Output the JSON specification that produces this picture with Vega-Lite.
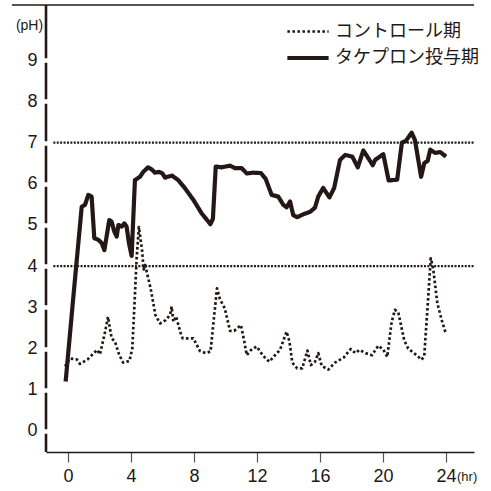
{
  "$schema": "https://vega.github.io/schema/vega-lite/v6.json",
  "width": 428,
  "height": 447,
  "autosize": "none",
  "padding": {"left": 46, "top": 5, "right": 17, "bottom": 39},
  "background": "white",
  "config": {"view": {"stroke": null}, "font": "Liberation Sans"},
  "datasets": {
    "ph": [
      {"series": "タケプロン投与期", "hr": -0.15, "pH": 1.2},
      {"series": "タケプロン投与期", "hr": 0.35, "pH": 3.3},
      {"series": "タケプロン投与期", "hr": 0.87, "pH": 5.44},
      {"series": "タケプロン投与期", "hr": 1.08, "pH": 5.49},
      {"series": "タケプロン投与期", "hr": 1.29, "pH": 5.73},
      {"series": "タケプロン投与期", "hr": 1.5, "pH": 5.69},
      {"series": "タケプロン投与期", "hr": 1.67, "pH": 4.68},
      {"series": "タケプロン投与期", "hr": 1.93, "pH": 4.64},
      {"series": "タケプロン投与期", "hr": 2.14, "pH": 4.56},
      {"series": "タケプロン投与期", "hr": 2.31, "pH": 4.39},
      {"series": "タケプロン投与期", "hr": 2.62, "pH": 5.12},
      {"series": "タケプロン投与期", "hr": 2.77, "pH": 5.08},
      {"series": "タケプロン投与期", "hr": 2.94, "pH": 4.84},
      {"series": "タケプロン投与期", "hr": 3.09, "pH": 4.72},
      {"series": "タケプロン投与期", "hr": 3.2, "pH": 5.0},
      {"series": "タケプロン投与期", "hr": 3.41, "pH": 4.96},
      {"series": "タケプロン投与期", "hr": 3.58, "pH": 5.04},
      {"series": "タケプロン投与期", "hr": 3.72, "pH": 4.96},
      {"series": "タケプロン投与期", "hr": 3.87, "pH": 4.56},
      {"series": "タケプロン投与期", "hr": 4.04, "pH": 4.25},
      {"series": "タケプロン投与期", "hr": 4.25, "pH": 6.09},
      {"series": "タケプロン投与期", "hr": 4.57, "pH": 6.17},
      {"series": "タケプロン投与期", "hr": 4.78, "pH": 6.29},
      {"series": "タケプロン投与期", "hr": 5.08, "pH": 6.4},
      {"series": "タケプロン投与期", "hr": 5.31, "pH": 6.35},
      {"series": "タケプロン投与期", "hr": 5.52, "pH": 6.27},
      {"series": "タケプロン投与期", "hr": 5.78, "pH": 6.29},
      {"series": "タケプロン投与期", "hr": 6.0, "pH": 6.25},
      {"series": "タケプロン投与期", "hr": 6.16, "pH": 6.15},
      {"series": "タケプロン投与期", "hr": 6.6, "pH": 6.2},
      {"series": "タケプロン投与期", "hr": 7.0, "pH": 6.09},
      {"series": "タケプロン投与期", "hr": 7.43, "pH": 5.89},
      {"series": "タケプロン投与期", "hr": 7.96, "pH": 5.61},
      {"series": "タケプロン投与期", "hr": 8.49, "pH": 5.28},
      {"series": "タケプロン投与期", "hr": 9.04, "pH": 5.02},
      {"series": "タケプロン投与期", "hr": 9.2, "pH": 5.15},
      {"series": "タケプロン投与期", "hr": 9.38, "pH": 6.42},
      {"series": "タケプロン投与期", "hr": 9.75, "pH": 6.4},
      {"series": "タケプロン投与期", "hr": 10.29, "pH": 6.44},
      {"series": "タケプロン投与期", "hr": 10.6, "pH": 6.38},
      {"series": "タケプロン投与期", "hr": 11.03, "pH": 6.38},
      {"series": "タケプロン投与期", "hr": 11.35, "pH": 6.25},
      {"series": "タケプロン投与期", "hr": 11.77, "pH": 6.27},
      {"series": "タケプロン投与期", "hr": 12.25, "pH": 6.26},
      {"series": "タケプロン投与期", "hr": 12.55, "pH": 6.12},
      {"series": "タケプロン投与期", "hr": 12.93, "pH": 5.73},
      {"series": "タケプロン投与期", "hr": 13.35, "pH": 5.69},
      {"series": "タケプロン投与期", "hr": 13.67, "pH": 5.49},
      {"series": "タケプロン投与期", "hr": 13.88, "pH": 5.43},
      {"series": "タケプロン投与期", "hr": 14.1, "pH": 5.57},
      {"series": "タケプロン投与期", "hr": 14.3, "pH": 5.24},
      {"series": "タケプロン投与期", "hr": 14.55, "pH": 5.19},
      {"series": "タケプロン投与期", "hr": 14.94, "pH": 5.26},
      {"series": "タケプロン投与期", "hr": 15.37, "pH": 5.32},
      {"series": "タケプロン投与期", "hr": 15.68, "pH": 5.42},
      {"series": "タケプロン投与期", "hr": 15.89, "pH": 5.69},
      {"series": "タケプロン投与期", "hr": 16.2, "pH": 5.9},
      {"series": "タケプロン投与期", "hr": 16.6, "pH": 5.67},
      {"series": "タケプロン投与期", "hr": 16.9, "pH": 5.9},
      {"series": "タケプロン投与期", "hr": 17.27, "pH": 6.58},
      {"series": "タケプロン投与期", "hr": 17.6, "pH": 6.7},
      {"series": "タケプロン投与期", "hr": 18.05, "pH": 6.66},
      {"series": "タケプロン投与期", "hr": 18.4, "pH": 6.4},
      {"series": "タケプロン投与期", "hr": 18.75, "pH": 6.81},
      {"series": "タケプロン投与期", "hr": 19.07, "pH": 6.62},
      {"series": "タケプロン投与期", "hr": 19.35, "pH": 6.45},
      {"series": "タケプロン投与期", "hr": 19.5, "pH": 6.58},
      {"series": "タケプロン投与期", "hr": 20.02, "pH": 6.72},
      {"series": "タケプロン投与期", "hr": 20.36, "pH": 6.08},
      {"series": "タケプロン投与期", "hr": 20.9, "pH": 6.1},
      {"series": "タケプロン投与期", "hr": 21.2, "pH": 7.0},
      {"series": "タケプロン投与期", "hr": 21.45, "pH": 7.04},
      {"series": "タケプロン投与期", "hr": 21.82, "pH": 7.24},
      {"series": "タケプロン投与期", "hr": 22.03, "pH": 7.06},
      {"series": "タケプロン投与期", "hr": 22.42, "pH": 6.17},
      {"series": "タケプロン投与期", "hr": 22.62, "pH": 6.5},
      {"series": "タケプロン投与期", "hr": 22.84, "pH": 6.56},
      {"series": "タケプロン投与期", "hr": 23.0, "pH": 6.83},
      {"series": "タケプロン投与期", "hr": 23.3, "pH": 6.75},
      {"series": "タケプロン投与期", "hr": 23.64, "pH": 6.77},
      {"series": "タケプロン投与期", "hr": 24.0, "pH": 6.66},
      {"series": "コントロール期", "hr": -0.19, "pH": 1.57},
      {"series": "コントロール期", "hr": 0.13, "pH": 1.76},
      {"series": "コントロール期", "hr": 0.55, "pH": 1.74},
      {"series": "コントロール期", "hr": 0.76, "pH": 1.63},
      {"series": "コントロール期", "hr": 1.25, "pH": 1.74},
      {"series": "コントロール期", "hr": 1.85, "pH": 1.97},
      {"series": "コントロール期", "hr": 2.03, "pH": 1.86},
      {"series": "コントロール期", "hr": 2.35, "pH": 2.4},
      {"series": "コントロール期", "hr": 2.54, "pH": 2.77},
      {"series": "コントロール期", "hr": 2.77, "pH": 2.25},
      {"series": "コントロール期", "hr": 2.98, "pH": 2.17},
      {"series": "コントロール期", "hr": 3.25, "pH": 1.85},
      {"series": "コントロール期", "hr": 3.5, "pH": 1.66},
      {"series": "コントロール期", "hr": 3.9, "pH": 1.7},
      {"series": "コントロール期", "hr": 4.08, "pH": 2.0},
      {"series": "コントロール期", "hr": 4.25, "pH": 3.3},
      {"series": "コントロール期", "hr": 4.36, "pH": 4.2},
      {"series": "コントロール期", "hr": 4.5, "pH": 4.95},
      {"series": "コントロール期", "hr": 4.7, "pH": 4.4},
      {"series": "コントロール期", "hr": 4.8, "pH": 3.92},
      {"series": "コントロール期", "hr": 4.9, "pH": 4.03},
      {"series": "コントロール期", "hr": 5.25, "pH": 3.45},
      {"series": "コントロール期", "hr": 5.55, "pH": 2.82},
      {"series": "コントロール期", "hr": 5.84, "pH": 2.61},
      {"series": "コントロール期", "hr": 6.2, "pH": 2.69},
      {"series": "コントロール期", "hr": 6.48, "pH": 2.82},
      {"series": "コントロール期", "hr": 6.58, "pH": 3.02},
      {"series": "コントロール期", "hr": 6.69, "pH": 2.65},
      {"series": "コントロール期", "hr": 6.86, "pH": 2.78},
      {"series": "コントロール期", "hr": 7.15, "pH": 2.38},
      {"series": "コントロール期", "hr": 7.28, "pH": 2.25},
      {"series": "コントロール期", "hr": 7.96, "pH": 2.25},
      {"series": "コントロール期", "hr": 8.38, "pH": 1.94},
      {"series": "コントロール期", "hr": 8.75, "pH": 1.89},
      {"series": "コントロール期", "hr": 9.05, "pH": 1.93},
      {"series": "コントロール期", "hr": 9.23, "pH": 2.61},
      {"series": "コントロール期", "hr": 9.46, "pH": 3.46},
      {"series": "コントロール期", "hr": 9.65, "pH": 3.2},
      {"series": "コントロール期", "hr": 9.95, "pH": 2.98},
      {"series": "コントロール期", "hr": 10.29, "pH": 2.43},
      {"series": "コントロール期", "hr": 10.55, "pH": 2.43},
      {"series": "コントロール期", "hr": 10.98, "pH": 2.57},
      {"series": "コントロール期", "hr": 11.18, "pH": 2.2},
      {"series": "コントロール期", "hr": 11.35, "pH": 1.84},
      {"series": "コントロール期", "hr": 11.6, "pH": 1.96},
      {"series": "コントロール期", "hr": 11.98, "pH": 2.05},
      {"series": "コントロール期", "hr": 12.4, "pH": 1.82},
      {"series": "コントロール期", "hr": 12.78, "pH": 1.68},
      {"series": "コントロール期", "hr": 13.1, "pH": 1.82},
      {"series": "コントロール期", "hr": 13.46, "pH": 1.97},
      {"series": "コントロール期", "hr": 13.88, "pH": 2.41},
      {"series": "コントロール期", "hr": 14.06, "pH": 2.17},
      {"series": "コントロール期", "hr": 14.24, "pH": 1.66},
      {"series": "コントロール期", "hr": 14.55, "pH": 1.52},
      {"series": "コントロール期", "hr": 14.87, "pH": 1.52},
      {"series": "コントロール期", "hr": 15.2, "pH": 1.95},
      {"series": "コントロール期", "hr": 15.42, "pH": 1.6},
      {"series": "コントロール期", "hr": 15.68, "pH": 1.68},
      {"series": "コントロール期", "hr": 15.89, "pH": 1.89},
      {"series": "コントロール期", "hr": 16.11, "pH": 1.58},
      {"series": "コントロール期", "hr": 16.53, "pH": 1.49},
      {"series": "コントロール期", "hr": 16.95, "pH": 1.66},
      {"series": "コントロール期", "hr": 17.5, "pH": 1.78},
      {"series": "コントロール期", "hr": 17.95, "pH": 1.99},
      {"series": "コントロール期", "hr": 18.25, "pH": 1.89},
      {"series": "コントロール期", "hr": 18.5, "pH": 1.97},
      {"series": "コントロール期", "hr": 18.9, "pH": 1.89},
      {"series": "コントロール期", "hr": 19.3, "pH": 1.84},
      {"series": "コントロール期", "hr": 19.7, "pH": 2.07},
      {"series": "コントロール期", "hr": 20.01, "pH": 1.98},
      {"series": "コントロール期", "hr": 20.27, "pH": 1.8},
      {"series": "コントロール期", "hr": 20.55, "pH": 2.65},
      {"series": "コントロール期", "hr": 20.76, "pH": 2.94},
      {"series": "コントロール期", "hr": 20.97, "pH": 2.88},
      {"series": "コントロール期", "hr": 21.35, "pH": 2.2},
      {"series": "コントロール期", "hr": 21.6, "pH": 2.0},
      {"series": "コントロール期", "hr": 22.2, "pH": 1.82},
      {"series": "コントロール期", "hr": 22.45, "pH": 1.73},
      {"series": "コントロール期", "hr": 22.62, "pH": 1.82},
      {"series": "コントロール期", "hr": 22.88, "pH": 3.3},
      {"series": "コントロール期", "hr": 23.03, "pH": 4.19},
      {"series": "コントロール期", "hr": 23.17, "pH": 3.99},
      {"series": "コントロール期", "hr": 23.45, "pH": 3.1},
      {"series": "コントロール期", "hr": 23.73, "pH": 2.69},
      {"series": "コントロール期", "hr": 24.0, "pH": 2.35}
    ]
  },
  "layer": [
    {
      "data": {"values": [{"ref": 7}, {"ref": 4}]},
      "mark": {"type": "rule", "stroke": "#231815", "strokeWidth": 2.2, "strokeDash": [2, 1.4]},
      "encoding": {
        "x": {"datum": -0.93, "type": "quantitative", "scale": {"domain": [-1.397, 25.778], "nice": false, "zero": false}},
        "x2": {"datum": 25.778},
        "y": {"field": "ref", "type": "quantitative", "scale": {"domain": [-0.51, 10.34], "nice": false, "zero": false}}
      }
    },
    {
      "data": {"values": [{}]},
      "mark": {"type": "rule", "stroke": "#231815", "strokeWidth": 1.4, "clip": false},
      "encoding": {
        "x": {"datum": -3.56, "type": "quantitative"},
        "x2": {"datum": 25.778},
        "y": {"datum": 10.34, "type": "quantitative"}
      }
    },
    {
      "data": {"values": [{}]},
      "mark": {"type": "rule", "stroke": "#231815", "strokeWidth": 2.6},
      "encoding": {
        "x": {"datum": -1.397, "type": "quantitative"},
        "y": {"datum": -0.51, "type": "quantitative"},
        "y2": {"datum": 10.34}
      }
    },
    {
      "data": {"name": "ph"},
      "mark": {"type": "line", "stroke": "#231815", "strokeJoin": "round"},
      "encoding": {
        "x": {
          "field": "hr", "type": "quantitative",
          "scale": {"domain": [-1.397, 25.778], "nice": false, "zero": false},
          "axis": {
            "title": null, "values": [0,1,2,3,4,5,6,7,8,9,10,11,12,13,14,15,16,17,18,19,20,21,22,23,24],
            "labelExpr": "datum.value % 4 === 0 ? datum.label : ''",
            "domainColor": "#231815", "domainWidth": 1.5,
            "tickColor": "#555555", "tickWidth": 1.2, "tickSize": 10,
            "labelPadding": 5, "labelFontSize": 18, "labelFont": "Liberation Sans", "labelColor": "#231815",
            "labelFlush": false, "labelOverlap": false, "grid": false, "zindex": 1
          }
        },
        "y": {
          "field": "pH", "type": "quantitative",
          "scale": {"domain": [-0.51, 10.34], "nice": false, "zero": false},
          "axis": {
            "values": [0,1,2,3,4,5,6,7,8,9],
            "domain": false, "ticks": true, "tickColor": "white", "tickWidth": 4.5, "tickSize": 5,
            "offset": -2, "labelPadding": 6, "labelFontSize": 18, "labelFont": "Liberation Sans", "labelColor": "#231815",
            "grid": false, "zindex": 1,
            "title": "(pH)", "titleAngle": 0, "titleX": -19, "titleY": 20, "titleAlign": "center", "titleBaseline": "middle",
            "titleFontSize": 14, "titleFontWeight": "normal", "titleFont": "Liberation Sans Narrow, Liberation Sans", "titleColor": "#231815"
          }
        },
        "strokeDash": {
          "field": "series", "type": "ordinal",
          "scale": {"domain": ["コントロール期", "タケプロン投与期"], "range": [[2.6, 2.4], [1, 0]]},
          "legend": {
            "title": null, "orient": "none", "legendX": 239, "legendY": 14, "padding": 0,
            "symbolType": "stroke", "symbolSize": 1700, "symbolStrokeColor": "#231815",
            "labelFont": "Noto Sans CJK JP", "labelFontSize": 18, "labelColor": "#231815",
            "labelOffset": 4, "rowPadding": 1.5, "clipHeight": 25
          }
        },
        "strokeWidth": {
          "field": "series", "type": "ordinal",
          "scale": {"domain": ["コントロール期", "タケプロン投与期"], "range": [2.7, 4.2]},
          "legend": {
            "title": null, "orient": "none", "legendX": 239, "legendY": 14, "padding": 0,
            "symbolType": "stroke", "symbolSize": 1700, "symbolStrokeColor": "#231815",
            "labelFont": "Noto Sans CJK JP", "labelFontSize": 18, "labelColor": "#231815",
            "labelOffset": 4, "rowPadding": 1.5, "clipHeight": 25
          }
        }
      }
    },
    {
      "data": {"values": [{}]},
      "mark": {"type": "text", "text": "(hr)", "align": "left", "baseline": "middle", "dx": 11, "dy": 25, "fontSize": 13, "font": "Liberation Sans Narrow, Liberation Sans", "fill": "#231815"},
      "encoding": {
        "x": {"datum": 24, "type": "quantitative"},
        "y": {"datum": -0.51, "type": "quantitative"}
      }
    }
  ]
}
